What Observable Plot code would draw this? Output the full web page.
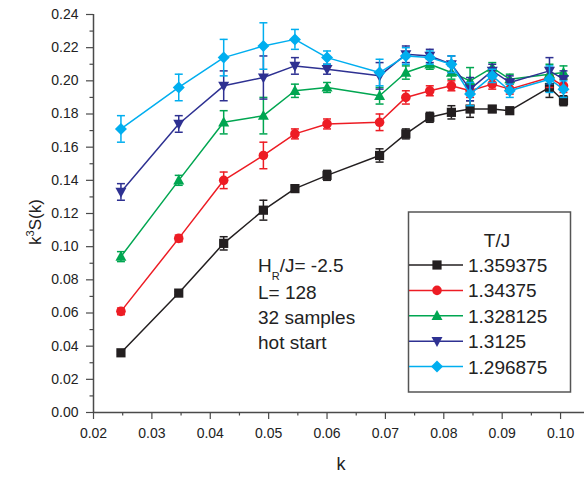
<!DOCTYPE html>
<html>
<head>
<meta charset="utf-8">
<script src="https://cdn.jsdelivr.net/npm/d3@7"></script>
<script src="https://cdn.jsdelivr.net/npm/@observablehq/plot@0.6"></script>
<style>
  html, body { margin: 0; padding: 0; background: #fff; }
  #wrap { position: relative; width: 584px; height: 479px; font-family: "Liberation Sans", Arial, Helvetica, sans-serif; }
  #wrap svg.overlay { position: absolute; left: 0; top: 0; pointer-events: none; }
</style>
</head>
<body>
<div id="wrap"></div>
<script>
// ---- data ----
const kValues = [0.0247, 0.0346, 0.0423, 0.0491, 0.0545, 0.0600, 0.0690, 0.0735, 0.0776, 0.0813, 0.0845, 0.0883, 0.0913, 0.0981, 0.1005];
const temps = ["1.359375", "1.34375", "1.328125", "1.3125", "1.296875"];
const colors = ["#231f20", "#ed1c24", "#00a651", "#2e3192", "#00aeef"];

const s1359375 = [0.036, 0.072, 0.102, 0.122, 0.135, 0.143, 0.155, 0.168, 0.178, 0.181, 0.183, 0.183, 0.182, 0.196, 0.188];
const s134375  = [0.061, 0.105, 0.140, 0.155, 0.168, 0.174, 0.175, 0.190, 0.194, 0.197, 0.194, 0.198, 0.195, 0.202, 0.197];
const s1328125 = [0.094, 0.140, 0.175, 0.179, 0.194, 0.196, 0.191, 0.205, 0.210, 0.205, 0.200, 0.208, 0.201, 0.204, 0.205];
const s13125   = [0.133, 0.174, 0.197, 0.202, 0.209, 0.207, 0.203, 0.216, 0.215, 0.210, 0.195, 0.206, 0.199, 0.206, 0.201];
const s1296875 = [0.171, 0.196, 0.214, 0.221, 0.225, 0.214, 0.205, 0.215, 0.214, 0.210, 0.192, 0.203, 0.194, 0.201, 0.195];

const e1359375 = [0.001, 0.001, 0.004, 0.006, 0.002, 0.003, 0.004, 0.003, 0.003, 0.004, 0.005, 0.002, 0.001, 0.006, 0.003];
const e134375  = [0.002, 0.002, 0.005, 0.008, 0.003, 0.003, 0.005, 0.004, 0.003, 0.003, 0.004, 0.003, 0.003, 0.006, 0.004];
const e1328125 = [0.003, 0.003, 0.007, 0.011, 0.004, 0.003, 0.005, 0.004, 0.003, 0.004, 0.008, 0.003, 0.003, 0.006, 0.004];
const e13125   = [0.005, 0.005, 0.009, 0.013, 0.005, 0.003, 0.008, 0.005, 0.004, 0.005, 0.007, 0.004, 0.004, 0.008, 0.005];
const e1296875 = [0.008, 0.008, 0.011, 0.014, 0.006, 0.004, 0.008, 0.005, 0.004, 0.005, 0.007, 0.004, 0.004, 0.008, 0.005];

const yMajor = [0, 0.02, 0.04, 0.06, 0.08, 0.10, 0.12, 0.14, 0.16, 0.18, 0.20, 0.22, 0.24];
const yMinor = [0.01, 0.03, 0.05, 0.07, 0.09, 0.11, 0.13, 0.15, 0.17, 0.19, 0.21, 0.23];
const xMajor = [0.02, 0.03, 0.04, 0.05, 0.06, 0.07, 0.08, 0.09, 0.10];
const xMinor = [0.025, 0.035, 0.045, 0.055, 0.065, 0.075, 0.085, 0.095];

const annotationLines = ["L= 128", "32 samples", "hot start"];
const legendTitle = "T/J";

// ---- symbols ----
const rr = size => Math.sqrt(size / Math.PI);
const symSquare = { draw(c, s) { const r = rr(s) * 0.92; c.rect(-r, -r, 2 * r, 2 * r); } };
const symCircle = { draw(c, s) { const r = rr(s) * 0.96; c.moveTo(r, 0); c.arc(0, 0, r, 0, 2 * Math.PI); } };
const symTriUp = { draw(c, s) { const r = rr(s) * 1.1; c.moveTo(0, -r * 1.05); c.lineTo(r, r * 0.75); c.lineTo(-r, r * 0.75); c.closePath(); } };
const symTriDown = { draw(c, s) { const r = rr(s) * 1.1; c.moveTo(0, r * 1.05); c.lineTo(r, -r * 0.75); c.lineTo(-r, -r * 0.75); c.closePath(); } };
const symDiamond = { draw(c, s) { const r = rr(s) * 1.2; c.moveTo(0, -r); c.lineTo(r, 0); c.lineTo(0, r); c.lineTo(-r, 0); c.closePath(); } };
const symCap = { draw(c, s) { const r = rr(s); c.moveTo(-r, 0); c.lineTo(r, 0); } };
const symbols = [symSquare, symCircle, symTriUp, symTriDown, symDiamond];

const seriesVals = [s1359375, s134375, s1328125, s13125, s1296875];
const seriesErr = [e1359375, e134375, e1328125, e13125, e1296875];

const series = temps.map((t, i) => kValues.map((k, j) => ({ k, v: seriesVals[i][j], e: seriesErr[i][j], t })));

const axisColor = "#4a4a4a";
const marks = [
  Plot.axisY({ ticks: yMinor, tickSize: 3.5, tickFormat: () => "", label: null, stroke: axisColor, strokeWidth: 1.2 }),
  Plot.axisY({ ticks: yMajor, tickSize: 7, tickPadding: 8, tickFormat: d3.format(".2f"), label: null, stroke: axisColor, strokeWidth: 1.2, fill: "#222" }),
  Plot.axisX({ ticks: xMinor, tickSize: 3.5, tickFormat: () => "", label: null, stroke: axisColor, strokeWidth: 1.2 }),
  Plot.axisX({ ticks: xMajor, tickSize: 7, tickPadding: 9, tickFormat: d3.format(".2f"), label: null, stroke: axisColor, strokeWidth: 1.2, fill: "#222" }),
  Plot.ruleX([0.02], { stroke: axisColor, strokeWidth: 1.5 }),
  Plot.ruleY([0], { stroke: axisColor, strokeWidth: 1.5 })
];
series.forEach((data, i) => {
  const col = colors[i];
  marks.push(
    Plot.line(data, { x: "k", y: "v", stroke: col, strokeWidth: 1.5 }),
    Plot.ruleX(data, { x: "k", y1: d => d.v - d.e, y2: d => d.v + d.e, stroke: col, strokeWidth: 1.5 }),
    Plot.dot(data, { x: "k", y: d => d.v - d.e, symbol: symCap, r: 4, stroke: col, strokeWidth: 1.5, fill: "none" }),
    Plot.dot(data, { x: "k", y: d => d.v + d.e, symbol: symCap, r: 4, stroke: col, strokeWidth: 1.5, fill: "none" }),
    Plot.dot(data, { x: "k", y: "v", symbol: symbols[i], r: 5, fill: col, stroke: "none" })
  );
});

const chart = Plot.plot({
  width: 584, height: 479,
  marginLeft: 93, marginRight: 0, marginTop: 14, marginBottom: 67,
  x: { domain: [0.02, 0.1041] },
  y: { domain: [0, 0.24] },
  style: { fontFamily: '"Liberation Sans", Arial, Helvetica, sans-serif', fontSize: "14px", color: "#222", background: "#fff" },
  marks
});
const wrap = document.getElementById("wrap");
wrap.appendChild(chart);

// ---- overlay: axis titles, annotation, legend ----
const ov = d3.select(wrap).append("svg").attr("class", "overlay").attr("width", 584).attr("height", 479)
  .style("font-family", '"Liberation Sans", Arial, Helvetica, sans-serif').attr("fill", "#222");

const yt = ov.append("text").attr("transform", "translate(41,222) rotate(-90)").attr("text-anchor", "middle").attr("font-size", 17);
yt.append("tspan").text("k");
yt.append("tspan").attr("font-size", 11).attr("dy", -7).text("3");
yt.append("tspan").attr("dy", 7).text("S(k)");

ov.append("text").attr("x", 341).attr("y", 470).attr("text-anchor", "middle").attr("font-size", 18).text("k");

const a1 = ov.append("text").attr("x", 258).attr("y", 272).attr("font-size", 19);
a1.append("tspan").text("H");
a1.append("tspan").attr("font-size", 11).attr("dy", 8).text("R");
a1.append("tspan").attr("dy", -8).text("/J= -2.5");
annotationLines.forEach((s, i) => {
  ov.append("text").attr("x", 258).attr("y", [299, 324, 349][i]).attr("font-size", 19).text(s);
});

const lg = ov.append("g").attr("transform", "translate(408,212)");
lg.append("rect").attr("x", 0.5).attr("y", 0).attr("width", 162).attr("height", 180)
  .attr("fill", "#fff").attr("stroke", "#555").attr("stroke-width", 1.5);
lg.append("text").attr("x", 89).attr("y", 35).attr("text-anchor", "middle").attr("font-size", 19).text(legendTitle);
temps.forEach((t, i) => {
  const cy = 53 + i * 25.4;
  lg.append("line").attr("x1", 1).attr("x2", 55).attr("y1", cy).attr("y2", cy).attr("stroke", colors[i]).attr("stroke-width", 1.5);
  lg.append("path").attr("transform", `translate(29,${cy})`)
    .attr("d", d3.symbol(symbols[i], Math.PI * 25)()).attr("fill", colors[i]);
  lg.append("text").attr("x", 60).attr("y", cy + 7).attr("font-size", 19).text(t);
});
</script>
</body>
</html>
